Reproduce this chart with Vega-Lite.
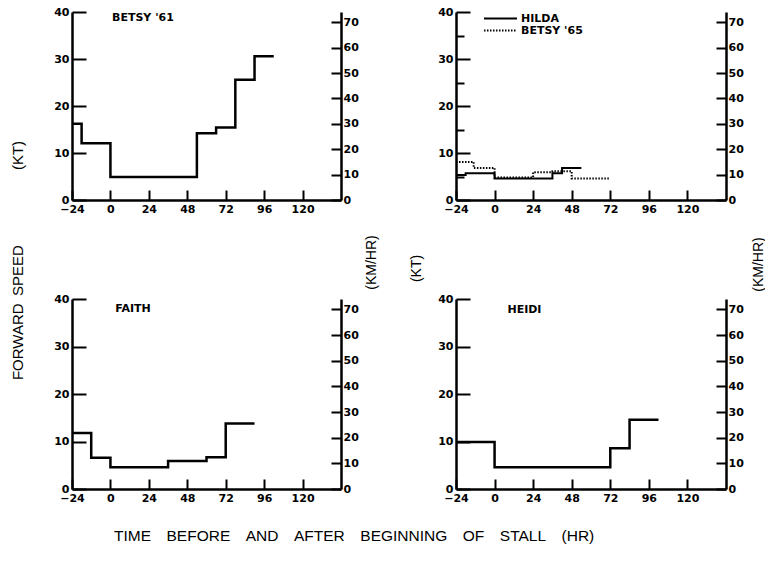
{
  "$schema": "https://vega.github.io/schema/vega-lite/v6.json",
  "background": "white",
  "padding": {"left": 10, "top": 6, "right": 0, "bottom": 0},
  "datasets": {
    "speeds": [
      {"panel": "A", "storm": "BETSY '61", "hr": -24, "kt": 16.2},
      {"panel": "A", "storm": "BETSY '61", "hr": -18, "kt": 12.1},
      {"panel": "A", "storm": "BETSY '61", "hr": 0, "kt": 4.9},
      {"panel": "A", "storm": "BETSY '61", "hr": 54, "kt": 14.2},
      {"panel": "A", "storm": "BETSY '61", "hr": 66, "kt": 15.4},
      {"panel": "A", "storm": "BETSY '61", "hr": 78, "kt": 25.6},
      {"panel": "A", "storm": "BETSY '61", "hr": 90, "kt": 30.6},
      {"panel": "A", "storm": "BETSY '61", "hr": 102, "kt": 30.6},
      {"panel": "B", "storm": "HILDA", "hr": -24, "kt": 5.3},
      {"panel": "B", "storm": "HILDA", "hr": -18, "kt": 5.7},
      {"panel": "B", "storm": "HILDA", "hr": 0, "kt": 4.6},
      {"panel": "B", "storm": "HILDA", "hr": 36, "kt": 5.7},
      {"panel": "B", "storm": "HILDA", "hr": 42, "kt": 6.8},
      {"panel": "B", "storm": "HILDA", "hr": 54, "kt": 6.8},
      {"panel": "B", "storm": "BETSY '65", "hr": -24, "kt": 8.1},
      {"panel": "B", "storm": "BETSY '65", "hr": -13, "kt": 6.8},
      {"panel": "B", "storm": "BETSY '65", "hr": 0, "kt": 4.8},
      {"panel": "B", "storm": "BETSY '65", "hr": 24, "kt": 5.9},
      {"panel": "B", "storm": "BETSY '65", "hr": 36, "kt": 6.1},
      {"panel": "B", "storm": "BETSY '65", "hr": 48, "kt": 4.6},
      {"panel": "B", "storm": "BETSY '65", "hr": 72, "kt": 4.6},
      {"panel": "C", "storm": "FAITH", "hr": -24, "kt": 11.8},
      {"panel": "C", "storm": "FAITH", "hr": -12, "kt": 6.6},
      {"panel": "C", "storm": "FAITH", "hr": 0, "kt": 4.6},
      {"panel": "C", "storm": "FAITH", "hr": 36, "kt": 5.9},
      {"panel": "C", "storm": "FAITH", "hr": 60, "kt": 6.7},
      {"panel": "C", "storm": "FAITH", "hr": 72, "kt": 13.8},
      {"panel": "C", "storm": "FAITH", "hr": 90, "kt": 13.8},
      {"panel": "D", "storm": "HEIDI", "hr": -24, "kt": 9.9},
      {"panel": "D", "storm": "HEIDI", "hr": 0, "kt": 4.6},
      {"panel": "D", "storm": "HEIDI", "hr": 72, "kt": 8.6},
      {"panel": "D", "storm": "HEIDI", "hr": 84, "kt": 14.6},
      {"panel": "D", "storm": "HEIDI", "hr": 102, "kt": 14.6}
    ]
  },
  "config": {
    "view": {"stroke": null},
    "axis": {
      "domainColor": "black", "domainWidth": 2.5, "tickColor": "black", "tickWidth": 2,
      "labelColor": "black", "labelFont": "DejaVu Sans", "labelFontWeight": "bold", "labelFontSize": 11,
      "labelOverlap": false, "grid": false, "titleFont": "Liberation Sans", "titleFontWeight": "normal",
      "titleFontSize": 14, "titleColor": "black"
    },
    "text": {"font": "DejaVu Sans", "fontWeight": "bold", "fontSize": 11, "color": "black"}
  },
  "title": {
    "text": "TIME\u2003BEFORE\u2003AND\u2003AFTER\u2003BEGINNING\u2003OF\u2003STALL\u2003(HR)",
    "orient": "bottom", "anchor": "start", "frame": "group", "dx": 42, "offset": 26,
    "font": "Liberation Sans", "fontSize": 15.5, "fontWeight": "normal", "color": "black"
  },
  "bounds": "flush",
  "spacing": {"row": 99, "column": 115},
  "columns": 2,
  "concat": [
    {
      "width": 269, "height": 188,
      "resolve": {"scale": {"y": "independent"}, "axis": {"y": "independent"}},
      "layer": [
        {
          "layer": [
            {
              "data": {"name": "speeds"},
              "transform": [{"filter": "datum.panel === 'A'"}],
              "mark": {"type": "line", "interpolate": "step-after", "stroke": "black", "strokeWidth": 2.5},
              "encoding": {
                "x": {"field": "hr", "type": "quantitative", "scale": {"domain": [-24, 144], "nice": false},
                  "axis": {"title": null, "values": [-24, 0, 24, 48, 72, 96, 120], "tickSize": -10, "labelPadding": 13, "labelFlush": false}},
                "y": {"field": "kt", "type": "quantitative", "scale": {"domain": [0, 40], "nice": false},
                  "axis": {"orient": "left", "values": [0, 5, 10, 15, 20, 25, 30, 35, 40],
                    "labelExpr": "datum.value % 10 === 0 ? datum.label : ''",
                    "tickSize": {"condition": {"test": "datum.value % 10 === 0", "value": -14}, "value": -8},
                    "labelPadding": 17,
                    "title": "FORWARD\u2002SPEED\u2003\u2003\u2003\u2003\u2003(KT)", "titleX": -55, "titleY": 248, "titleAngle": 270,
                    "titleFontSize": 15, "titleAlign": "center", "titleBaseline": "middle"}}
              }
            },
            {
              "data": {"values": [{"name": "BETSY '61", "hr": 1, "kt": 38.8}]},
              "mark": {"type": "text", "align": "left", "baseline": "middle"},
              "encoding": {"x": {"field": "hr", "type": "quantitative"}, "y": {"field": "kt", "type": "quantitative"}, "text": {"field": "name"}}
            }
          ]
        },
        {
          "mark": {"type": "rule", "opacity": 0},
          "encoding": {
            "y": {"datum": 0, "type": "quantitative", "scale": {"domain": [0, 74.08], "nice": false},
              "axis": {"orient": "right", "values": [0, 10, 20, 30, 40, 50, 60, 70], "tickSize": -10, "labelPadding": 12,
                "title": "(KM/HR)", "titleX": 30, "titleY": 250, "titleAngle": 270, "titleAlign": "center", "titleBaseline": "middle"}}
          }
        }
      ]
    },
    {
      "width": 270, "height": 188,
      "resolve": {"scale": {"y": "independent"}, "axis": {"y": "independent"}},
      "layer": [
        {
          "layer": [
            {
              "data": {"name": "speeds"},
              "transform": [{"filter": "datum.panel === 'B'"}],
              "mark": {"type": "line", "interpolate": "step-after", "stroke": "black", "strokeWidth": 2},
              "encoding": {
                "x": {"field": "hr", "type": "quantitative", "scale": {"domain": [-24, 144], "nice": false},
                  "axis": {"title": null, "values": [-24, 0, 24, 48, 72, 96, 120], "tickSize": -10, "labelPadding": 13, "labelFlush": false}},
                "y": {"field": "kt", "type": "quantitative", "scale": {"domain": [0, 40], "nice": false},
                  "axis": {"orient": "left", "values": [0, 5, 10, 15, 20, 25, 30, 35, 40],
                    "labelExpr": "datum.value % 10 === 0 ? datum.label : ''",
                    "tickSize": {"condition": {"test": "datum.value % 10 === 0", "value": -14}, "value": -8},
                    "labelPadding": 17,
                    "title": "(KT)", "titleX": -40, "titleY": 256, "titleAngle": 270,
                    "titleAlign": "center", "titleBaseline": "middle"}},
                "strokeDash": {"field": "storm", "type": "nominal",
                  "scale": {"domain": ["HILDA", "BETSY '65"], "range": [[1, 0], [1.5, 1.5]]},
                  "legend": {"title": null, "orient": "none", "legendX": 433, "legendY": 0,
                    "symbolType": "M-5,0H1", "symbolSize": 121, "symbolStrokeWidth": 2, "symbolStrokeColor": "black",
                    "labelFont": "DejaVu Sans", "labelFontWeight": "bold", "labelFontSize": 11, "labelColor": "black",
                    "rowPadding": -2, "labelOffset": 3}}
              }
            }
          ]
        },
        {
          "mark": {"type": "rule", "opacity": 0},
          "encoding": {
            "y": {"datum": 0, "type": "quantitative", "scale": {"domain": [0, 74.08], "nice": false},
              "axis": {"orient": "right", "values": [0, 10, 20, 30, 40, 50, 60, 70], "tickSize": -10, "labelPadding": 12,
                "title": "(KM/HR)", "titleX": 32, "titleY": 252, "titleAngle": 270, "titleAlign": "center", "titleBaseline": "middle"}}
          }
        }
      ]
    },
    {
      "width": 269, "height": 190,
      "resolve": {"scale": {"y": "independent"}, "axis": {"y": "independent"}},
      "layer": [
        {
          "layer": [
            {
              "data": {"name": "speeds"},
              "transform": [{"filter": "datum.panel === 'C'"}],
              "mark": {"type": "line", "interpolate": "step-after", "stroke": "black", "strokeWidth": 2.5},
              "encoding": {
                "x": {"field": "hr", "type": "quantitative", "scale": {"domain": [-24, 144], "nice": false},
                  "axis": {"title": null, "values": [-24, 0, 24, 48, 72, 96, 120], "tickSize": -10, "labelPadding": 13, "labelFlush": false}},
                "y": {"field": "kt", "type": "quantitative", "scale": {"domain": [0, 40], "nice": false},
                  "axis": {"orient": "left", "values": [0, 5, 10, 15, 20, 25, 30, 35, 40],
                    "labelExpr": "datum.value % 10 === 0 ? datum.label : ''",
                    "tickSize": {"condition": {"test": "datum.value % 10 === 0", "value": -14}, "value": -8},
                    "labelPadding": 17, "title": null}}
              }
            },
            {
              "data": {"values": [{"name": "FAITH", "hr": 3, "kt": 37.9}]},
              "mark": {"type": "text", "align": "left", "baseline": "middle"},
              "encoding": {"x": {"field": "hr", "type": "quantitative"}, "y": {"field": "kt", "type": "quantitative"}, "text": {"field": "name"}}
            }
          ]
        },
        {
          "mark": {"type": "rule", "opacity": 0},
          "encoding": {
            "y": {"datum": 0, "type": "quantitative", "scale": {"domain": [0, 74.08], "nice": false},
              "axis": {"orient": "right", "values": [0, 10, 20, 30, 40, 50, 60, 70], "tickSize": -10, "labelPadding": 12, "title": null}}
          }
        }
      ]
    },
    {
      "width": 270, "height": 190,
      "resolve": {"scale": {"y": "independent"}, "axis": {"y": "independent"}},
      "layer": [
        {
          "layer": [
            {
              "data": {"name": "speeds"},
              "transform": [{"filter": "datum.panel === 'D'"}],
              "mark": {"type": "line", "interpolate": "step-after", "stroke": "black", "strokeWidth": 2.5},
              "encoding": {
                "x": {"field": "hr", "type": "quantitative", "scale": {"domain": [-24, 144], "nice": false},
                  "axis": {"title": null, "values": [-24, 0, 24, 48, 72, 96, 120], "tickSize": -10, "labelPadding": 13, "labelFlush": false}},
                "y": {"field": "kt", "type": "quantitative", "scale": {"domain": [0, 40], "nice": false},
                  "axis": {"orient": "left", "values": [0, 5, 10, 15, 20, 25, 30, 35, 40],
                    "labelExpr": "datum.value % 10 === 0 ? datum.label : ''",
                    "tickSize": {"condition": {"test": "datum.value % 10 === 0", "value": -14}, "value": -8},
                    "labelPadding": 17, "title": null}}
              }
            },
            {
              "data": {"values": [{"name": "HEIDI", "hr": 8, "kt": 37.7}]},
              "mark": {"type": "text", "align": "left", "baseline": "middle"},
              "encoding": {"x": {"field": "hr", "type": "quantitative"}, "y": {"field": "kt", "type": "quantitative"}, "text": {"field": "name"}}
            }
          ]
        },
        {
          "mark": {"type": "rule", "opacity": 0},
          "encoding": {
            "y": {"datum": 0, "type": "quantitative", "scale": {"domain": [0, 74.08], "nice": false},
              "axis": {"orient": "right", "values": [0, 10, 20, 30, 40, 50, 60, 70], "tickSize": -10, "labelPadding": 12, "title": null}}
          }
        }
      ]
    }
  ]
}
